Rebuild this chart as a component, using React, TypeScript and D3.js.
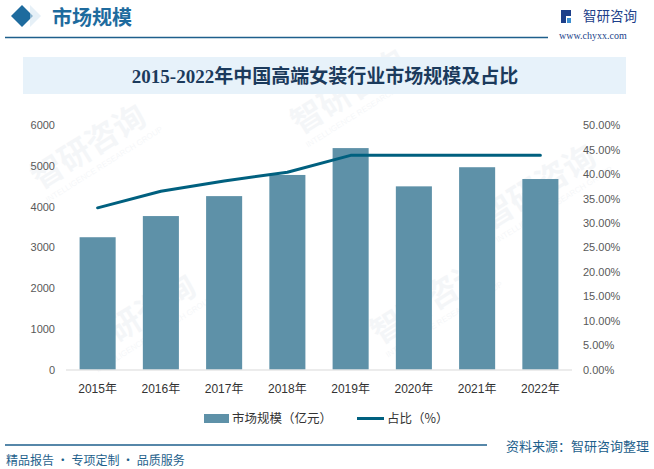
import React from "react";
import * as d3 from "d3";

// chart data
const years = ["2015年", "2016年", "2017年", "2018年", "2019年", "2020年", "2021年", "2022年"];
const marketSize = [3250, 3770, 4260, 4780, 5440, 4500, 4970, 4680];
const shareRatio = [0.331, 0.365, 0.386, 0.404, 0.4385, 0.4385, 0.4385, 0.4385];
const leftTicks = [0, 1000, 2000, 3000, 4000, 5000, 6000];
const rightTicks = [0, 0.05, 0.1, 0.15, 0.2, 0.25, 0.3, 0.35, 0.4, 0.45, 0.5];

const WIDTH = 654;
const HEIGHT = 469;
const PLOT_LEFT = 66;
const PLOT_RIGHT = 572;
const PLOT_TOP = 125.3;
const PLOT_BOTTOM = 369.5;

const BAR_COLOR = "#5E91A8";
const LINE_COLOR = "#00607F";
const LABEL_FONT = "'Liberation Sans', 'Noto Sans CJK SC', sans-serif";
const CJK_FONT = "'Noto Sans CJK SC', sans-serif";

const Watermark: React.FC<{x: number; y: number}> = ({x, y}) => (
    <g transform={`translate(${x},${y}) rotate(-32)`} opacity={0.045} fill="#1E4E79">
        <text fontFamily={CJK_FONT} fontSize={32} fontWeight={700}>智研咨询</text>
        <text y={15} fontFamily={LABEL_FONT} fontSize={8}>INTELLIGENCE RESEARCH GROUP</text>
    </g>
);

export default function App() {
    const x = d3.scaleBand<string>()
        .domain(years)
        .range([PLOT_LEFT, PLOT_RIGHT])
        .paddingInner(0.43)
        .paddingOuter(0.215);
    const yLeft = d3.scaleLinear().domain([0, 6000]).range([PLOT_BOTTOM, PLOT_TOP]);
    const yRight = d3.scaleLinear().domain([0, 0.5]).range([PLOT_BOTTOM, PLOT_TOP]);
    const center = (d: string) => (x(d) as number) + x.bandwidth() / 2;

    const line = d3.line<number>()
        .x((_, i) => center(years[i]))
        .y((d) => yRight(d));

    return (
        <svg width={WIDTH} height={HEIGHT} style={{position: "absolute", left: 0, top: 0}}>
            <rect width={WIDTH} height={HEIGHT} fill="#ffffff"/>

            {/* faint watermarks */}
            <Watermark x={40} y={190}/>
            <Watermark x={300} y={135}/>
            <Watermark x={90} y={360}/>
            <Watermark x={380} y={345}/>
            <Watermark x={490} y={230}/>

            {/* header */}
            <path d="M22,5 L33,16 L22,27 L11,16 Z" fill="#1E6B9E"/>
            <path d="M30,5 L41,16 L30,27" fill="#D6E6F2" opacity={0.6}/>
            <text x={52} y={25} fontFamily={CJK_FONT} fontWeight={700} fontSize={20} fill="#1E6B9E">市场规模</text>
            <line x1={5} x2={548} y1={37.5} y2={37.5} stroke="#1E5F8C" strokeWidth={1.3}/>
            <g>
                <rect x={561} y={10} width={5} height={13} fill="#1D3F8A"/>
                <rect x={566} y={10} width={5} height={6} fill="#1D3F8A"/>
                <rect x={567} y={18} width={4} height={5} fill="#3C8ED0"/>
            </g>
            <text x={583} y={21} fontFamily={CJK_FONT} fontSize={13.5} fill="#1D3F8A">智研咨询</text>
            <text x={559} y={39} fontFamily="'Liberation Serif', serif" fontSize={10} fill="#1D3F8A">www.chyxx.com</text>

            {/* title box */}
            <rect x={23} y={57} width={603} height={37} fill="#E7F2FA"/>
            <text x={325} y={83} textAnchor="middle" fontFamily="'Liberation Serif', 'Noto Sans CJK SC', serif"
                  fontWeight={700} fontSize={19} fill="#1B3A5C">2015-2022年中国高端女装行业市场规模及占比</text>

            {/* bars */}
            {marketSize.map((v, i) => (
                <rect key={years[i]} x={x(years[i])} y={yLeft(v)} width={x.bandwidth()}
                      height={PLOT_BOTTOM - yLeft(v)} fill={BAR_COLOR}/>
            ))}

            {/* x axis */}
            <line x1={PLOT_LEFT} x2={PLOT_RIGHT} y1={PLOT_BOTTOM + 0.5} y2={PLOT_BOTTOM + 0.5} stroke="#D9D9D9"/>
            {years.map((d) => (
                <text key={d} x={center(d)} y={393} textAnchor="middle" fontFamily={LABEL_FONT}
                      fontSize={12} fill="#333333">{d}</text>
            ))}

            {/* left axis */}
            {leftTicks.map((t) => (
                <text key={t} x={55} y={yLeft(t) + 4} textAnchor="end" fontFamily={LABEL_FONT}
                      fontSize={11} fill="#595959">{t}</text>
            ))}

            {/* right axis */}
            {rightTicks.map((t) => (
                <text key={t} x={583} y={yRight(t) + 4} fontFamily={LABEL_FONT}
                      fontSize={11} fill="#595959">{(t * 100).toFixed(2) + "%"}</text>
            ))}

            {/* share line */}
            <path d={line(shareRatio) || ""} fill="none" stroke={LINE_COLOR} strokeWidth={3}
                  strokeLinecap="round" strokeLinejoin="round"/>

            {/* legend */}
            <rect x={204} y={414} width={25} height={9} fill={BAR_COLOR}/>
            <text x={232} y={423} fontFamily={CJK_FONT} fontSize={12.5} fill="#333333">市场规模（亿元）</text>
            <line x1={357} x2={384} y1={418.5} y2={418.5} stroke={LINE_COLOR} strokeWidth={3}/>
            <text x={387} y={423} fontFamily={CJK_FONT} fontSize={12.5} fill="#333333">占比（%）</text>

            {/* footer */}
            <line x1={5} x2={487} y1={445} y2={445} stroke="#1E5F8C" strokeWidth={1.3}/>
            <text x={649} y={451} textAnchor="end" fontFamily={CJK_FONT} fontSize={13} fill="#1E5F8C">资料来源：智研咨询整理</text>
            <text x={6} y={465} fontFamily={CJK_FONT} fontSize={12} fill="#1E5F8C">精品报告 · 专项定制 · 品质服务</text>
        </svg>
    );
}
